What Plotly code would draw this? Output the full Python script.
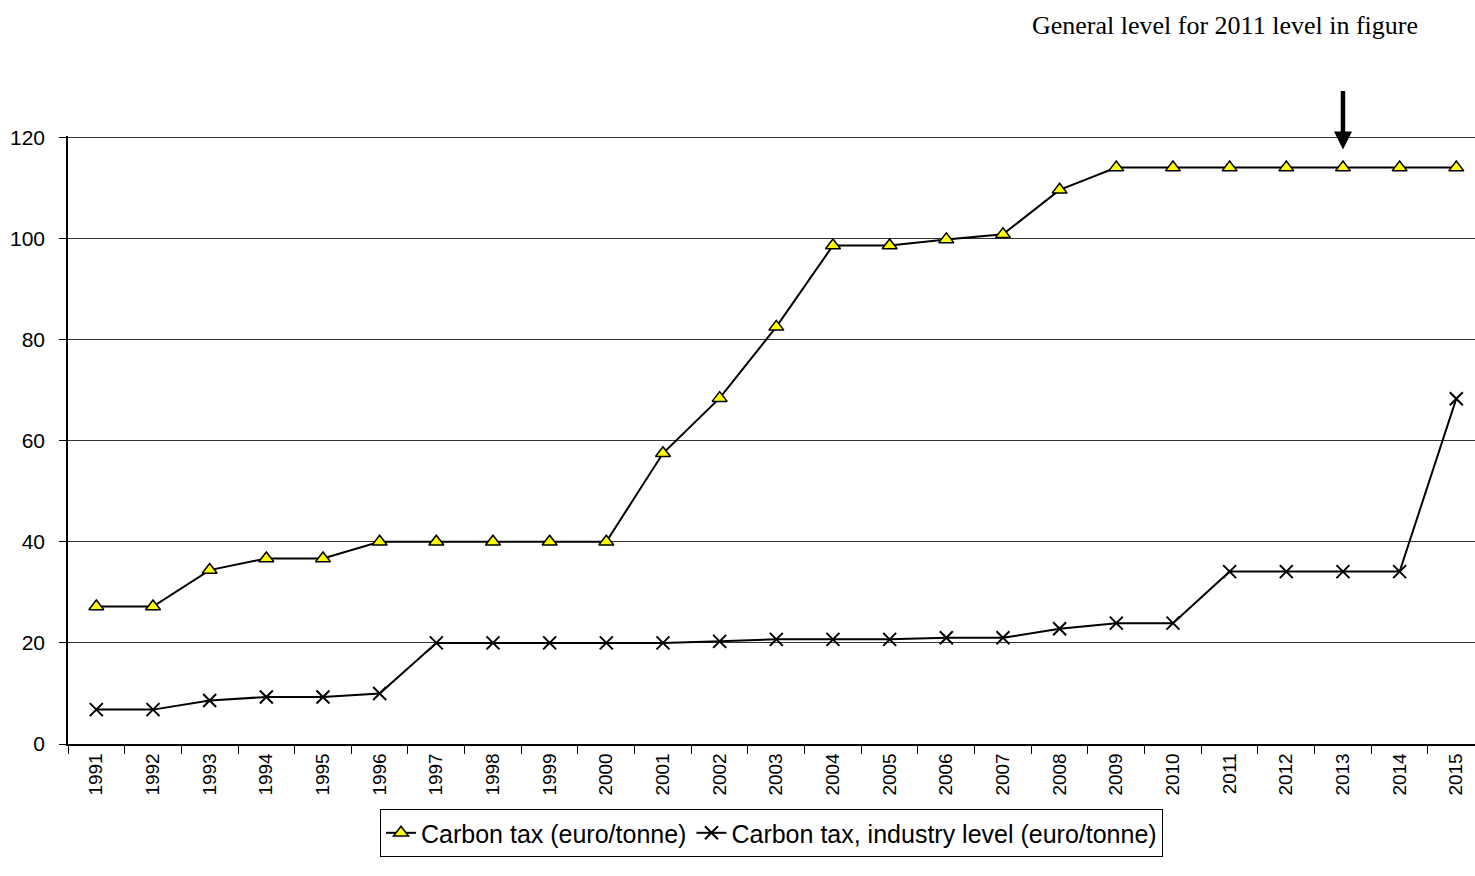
import plotly.graph_objects as go

# Carbon tax levels by year (euro per tonne CO2)
years = [str(y) for y in range(1991, 2016)]
carbon_tax = [27.2, 27.2, 34.4, 36.7, 36.7, 40.0, 40.0, 40.0, 40.0, 40.0,
              57.5, 68.4, 82.5, 98.6, 98.6, 99.8, 100.8, 109.6, 114.0, 114.0,
              114.0, 114.0, 114.0, 114.0, 114.0]
carbon_tax_industry = [6.8, 6.8, 8.6, 9.3, 9.3, 10.0, 20.0, 20.0, 20.0, 20.0,
                       20.0, 20.3, 20.7, 20.7, 20.7, 21.0, 21.0, 22.8, 23.9, 23.9,
                       34.1, 34.1, 34.1, 34.1, 68.3]

y_ticks = [0, 20, 40, 60, 80, 100, 120]
note_text = "General level for 2011 level in figure"
arrow_year = "2013"

PLOT_LEFT, PLOT_TOP, PLOT_BOTTOM = 68, 136, 744
PLOT_W, PLOT_H = 1475 - PLOT_LEFT, PLOT_BOTTOM - PLOT_TOP

fig = go.Figure()

fig.add_trace(go.Scatter(
    x=years, y=carbon_tax, mode="lines+markers",
    name="Carbon tax (euro/tonne)",
    line=dict(color="black", width=2),
    marker=dict(symbol="triangle-up", size=13, color="#FFFF00",
                line=dict(color="black", width=1.5)),
))

fig.add_trace(go.Scatter(
    x=years, y=carbon_tax_industry, mode="lines+markers",
    name="Carbon tax, industry level (euro/tonne)",
    line=dict(color="black", width=2),
    marker=dict(symbol="x-thin", size=13, color="black",
                line=dict(color="black", width=2)),
))

# Arrow pointing down at the general level (category axes take the index)
arrow_idx = years.index(arrow_year)
fig.add_annotation(
    x=arrow_idx, y=carbon_tax[arrow_idx] + 3.6,
    xref="x", yref="y", text="", showarrow=True,
    ax=0, ay=-60, axref="pixel", ayref="pixel",
    arrowcolor="black", arrowwidth=4.5,
    arrowhead=2, arrowsize=0.8, standoff=0,
)

# Note in the top right corner
fig.add_annotation(
    x=(1420 - PLOT_LEFT) / PLOT_W, y=1 + (PLOT_TOP - 26) / PLOT_H,
    xref="x domain", yref="y domain", text=note_text,
    showarrow=False, xanchor="right", yanchor="middle",
    font=dict(family="Liberation Serif, serif", size=26, color="black"),
)

fig.update_layout(
    width=1475, height=876,
    margin=dict(l=PLOT_LEFT, r=0, t=PLOT_TOP, b=876 - PLOT_BOTTOM),
    paper_bgcolor="white", plot_bgcolor="white",
    font=dict(family="Liberation Sans, Arial, sans-serif", size=20, color="black"),
    showlegend=True,
    legend=dict(
        orientation="h", x=0.5, xanchor="center", xref="paper",
        y=-0.107, yanchor="top",
        bordercolor="black", borderwidth=1,
        font=dict(family="Liberation Sans, sans-serif", size=25),
        itemwidth=30, tracegroupgap=0,
    ),
)

# The last category column runs slightly past the right edge of the page
fig.update_xaxes(
    type="category", range=[-0.5, len(years) - 0.67],
    showline=True, linecolor="black", linewidth=1.5,
    ticks="outside", ticklen=8, tickcolor="black", tickson="boundaries",
    tickangle=-90, showgrid=False, zeroline=False,
    tickfont=dict(size=19),
)

fig.update_yaxes(
    range=[0, 120.25], tickvals=y_ticks,
    showline=True, linecolor="black", linewidth=1.5,
    ticks="outside", ticklen=7, tickcolor="black", ticklabelstandoff=10,
    showgrid=True, gridcolor="#333333", gridwidth=1, zeroline=False,
    tickfont=dict(size=21),
)

fig.write_html("out.html")
